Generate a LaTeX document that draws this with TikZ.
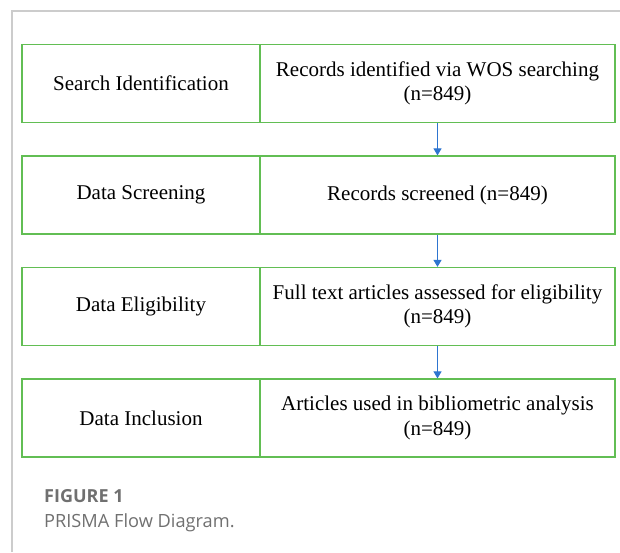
\documentclass[tikz,border=0pt]{standalone}
\usepackage{fontspec}
\setmainfont{Liberation Serif}
\newfontfamily\capfont{Open Sans}
\usetikzlibrary{arrows.meta}

\definecolor{boxgreen}{RGB}{98,190,84}
\definecolor{arrblue}{RGB}{46,117,208}
\definecolor{framegray}{RGB}{204,204,204}
\definecolor{capgray}{RGB}{112,112,112}

\tikzset{
  stage/.style={draw=boxgreen, line width=1.2pt, minimum width=238pt, minimum height=78pt,
    inner sep=0pt, font=\fontsize{21}{24.5}\selectfont},
  record/.style={stage, minimum width=355pt, align=center},
  flow/.style={arrblue, line width=1.1pt, -{Triangle[width=8pt,length=7pt]}},
  caption/.style={anchor=base west, inner sep=0pt, text=capgray}
}

\begin{document}
\begin{tikzpicture}[x=1pt,y=1pt]
  \useasboundingbox (0,0) rectangle (620,-552);
  \draw[framegray, line width=1.2pt] (12,-552) -- (12,-11) -- (620,-11);
  % left column: the stages
  \node[stage] (ident) at (141,-83.5) {Search Identification};
  \node[stage] (screen) at (141,-195) {Data Screening};
  \node[stage] (elig) at (141,-306.5) {Data Eligibility};
  \node[stage] (incl) at (141,-418) {Data Inclusion};
  % right column: the records
  \node[record] (found) at (437.5,-83.5) {Records identified via WOS searching\\(n=849)};
  \node[record] (screened) at (437.5,-195) {Records screened (n=849)};
  \node[record] (assessed) at (437.5,-306.5) {Full text articles assessed for eligibility\\(n=849)};
  \node[record] (used) at (437.5,-418) {Articles used in bibliometric analysis\\(n=849)};
  \draw[flow] (found) -- (screened);
  \draw[flow] (screened) -- (assessed);
  \draw[flow] (assessed) -- (used);
  % caption
  \node[caption, font=\capfont\bfseries\fontsize{18}{21}\selectfont] (fig) at (44,-502) {FIGURE 1};
  \node[caption, font=\capfont\fontsize{18.2}{21}\selectfont] (cap) at (44,-527) {PRISMA Flow Diagram.};
\end{tikzpicture}
\end{document}
